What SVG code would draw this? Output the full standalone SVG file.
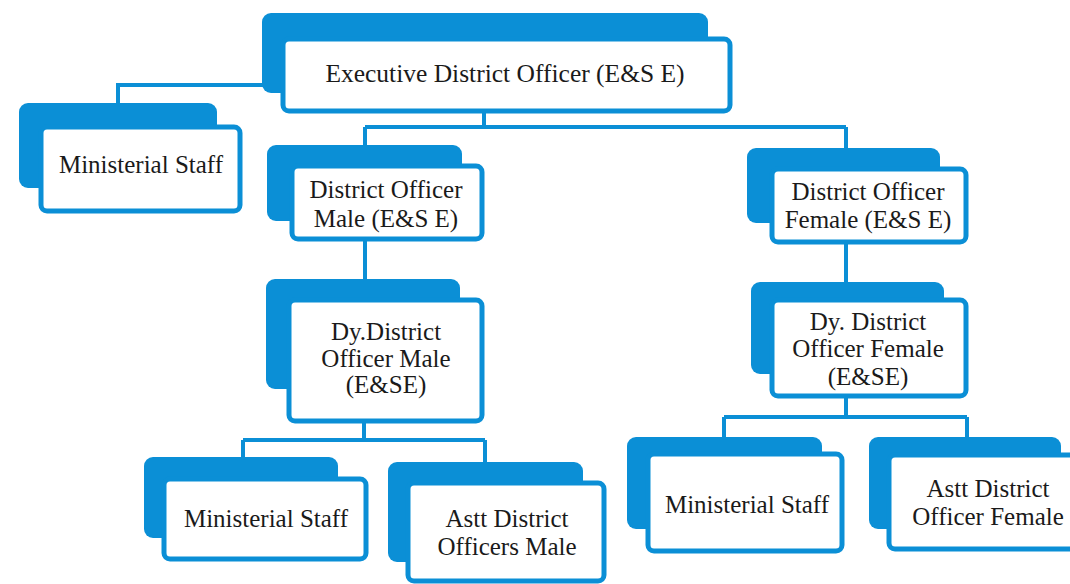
<svg xmlns="http://www.w3.org/2000/svg" width="1070" height="584" viewBox="0 0 1070 584">
<style>
.back{fill:#0b8fd6;}
.front{fill:#fff;stroke:#0b8fd6;stroke-width:5;}
.t{font-family:'Liberation Serif','Times New Roman',serif;font-size:25px;fill:#1a1a1a;text-anchor:middle;}
.c{fill:none;stroke:#0b8fd6;stroke-width:4;}
</style>
<rect width="1070" height="584" fill="#fff"/>
<g id="connectors">
<path class="c" d="M264 85 H118 V105"/>
<path class="c" d="M484 110 V127 M365 127 H846 M365 127 V147 M846 127 V150"/>
<path class="c" d="M365 240 V281"/>
<path class="c" d="M846 243 V284"/>
<path class="c" d="M364 422 V440 M243 440 H485 M243 440 V458 M485 440 V463"/>
<path class="c" d="M846 397 V417 M724 417 H967 M724 417 V438 M967 417 V438"/>
</g>
<g id="n-edo">
<rect class="back" x="262" y="13" width="446" height="80" rx="9"/>
<rect class="front" x="283" y="39" width="447" height="72" rx="6"/>
<text class="t" x="505" y="82" style="font-size:25.5px">Executive District Officer (E&amp;S E)</text>
</g>
<g id="n-ms-top">
<rect class="back" x="19" y="103" width="198" height="85" rx="9"/>
<rect class="front" x="41" y="127" width="199" height="84" rx="6"/>
<text class="t" x="141" y="173">Ministerial Staff</text>
</g>
<g id="n-do-male">
<rect class="back" x="267" y="145" width="195" height="76" rx="9"/>
<rect class="front" x="292" y="166" width="190" height="73" rx="6"/>
<text class="t" x="386" y="198">District Officer</text>
<text class="t" x="386" y="227">Male (E&amp;S E)</text>
</g>
<g id="n-do-female">
<rect class="back" x="747" y="148" width="193" height="75" rx="9"/>
<rect class="front" x="772" y="169" width="194" height="73" rx="6"/>
<text class="t" x="868" y="200">District Officer</text>
<text class="t" x="868" y="228">Female (E&amp;S E)</text>
</g>
<g id="n-dy-male">
<rect class="back" x="266" y="279" width="194" height="110" rx="9"/>
<rect class="front" x="289" y="300" width="193" height="121" rx="6"/>
<text class="t" x="386" y="340">Dy.District</text>
<text class="t" x="386" y="367">Officer Male</text>
<text class="t" x="386" y="393">(E&amp;SE)</text>
</g>
<g id="n-dy-female">
<rect class="back" x="751" y="282" width="193" height="92" rx="9"/>
<rect class="front" x="772" y="300" width="194" height="96" rx="6"/>
<text class="t" x="868" y="330">Dy. District</text>
<text class="t" x="868" y="357">Officer Female</text>
<text class="t" x="868" y="385">(E&amp;SE)</text>
</g>
<g id="n-ms-male">
<rect class="back" x="144" y="457" width="194" height="81" rx="9"/>
<rect class="front" x="164" y="479" width="202" height="80" rx="6"/>
<text class="t" x="266" y="527">Ministerial Staff</text>
</g>
<g id="n-ado-male">
<rect class="back" x="388" y="462" width="195" height="100" rx="9"/>
<rect class="front" x="408" y="483" width="196" height="98" rx="6"/>
<text class="t" x="507" y="527">Astt District</text>
<text class="t" x="507" y="555">Officers Male</text>
</g>
<g id="n-ms-female">
<rect class="back" x="627" y="437" width="195" height="92" rx="9"/>
<rect class="front" x="648" y="454" width="194" height="97" rx="6"/>
<text class="t" x="747" y="513">Ministerial Staff</text>
</g>
<g id="n-ado-female">
<rect class="back" x="869" y="437" width="192" height="92" rx="9"/>
<rect class="front" x="889" y="455" width="200" height="94" rx="6"/>
<text class="t" x="988" y="497">Astt District</text>
<text class="t" x="988" y="525">Officer Female</text>
</g>
</svg>
